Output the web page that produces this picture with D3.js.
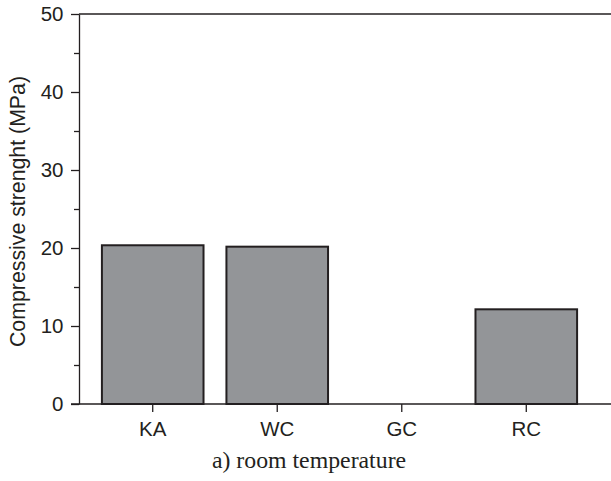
<!DOCTYPE html>
<html>
<head>
<meta charset="utf-8">
<script src="https://cdn.jsdelivr.net/npm/d3@7"></script>
<style>
  body { margin: 0; background: #fff; }
  svg { display: block; }
</style>
</head>
<body>
<svg id="chart" width="611" height="481"></svg>
<script>
const categories = ["KA", "WC", "GC", "RC"];
const values = [20.35, 20.17, null, 12.14];
const yMajorTicks = [0, 10, 20, 30, 40, 50];
const yMinorTicks = [5, 15, 25, 35, 45];
const yLabel = "Compressive strenght (MPa)";
const caption = "a) room temperature";

(function () {
const svg = d3.select("#chart");
const mLeft = 79, mRight = 600, mTop = 14, mBottom = 404, lineEnd = 611;
const axisColor = "#231f20";
const sans = "Liberation Sans, Arial, sans-serif";

const x = d3.scaleBand().domain(categories).range([mLeft, mRight]).paddingInner(0.184).paddingOuter(0.184);
const y = d3.scaleLinear().domain([0, 50]).range([mBottom, mTop]);

// bars
svg.append("g").selectAll("rect")
  .data(categories.map((c, i) => ({c, v: values[i]})).filter(d => d.v != null))
  .join("rect")
  .attr("x", d => x(d.c))
  .attr("width", x.bandwidth())
  .attr("y", d => y(d.v))
  .attr("height", d => y(0) - y(d.v))
  .attr("fill", "#939598")
  .attr("stroke", axisColor)
  .attr("stroke-width", 2);

// top line
svg.append("line").attr("x1", mLeft).attr("x2", lineEnd).attr("y1", mTop).attr("y2", mTop)
  .attr("stroke", axisColor).attr("stroke-width", 1.3);

// y axis
const yAxis = d3.axisLeft(y).tickValues(yMajorTicks).tickSize(8).tickPadding(7.5).tickSizeOuter(0);
const gy = svg.append("g").attr("transform", `translate(${mLeft},0)`).call(yAxis);
gy.select(".domain").attr("stroke", axisColor).attr("stroke-width", 1.3);
gy.selectAll(".tick line").attr("stroke", axisColor).attr("stroke-width", 1.3);
gy.selectAll(".tick text").attr("font-family", sans).attr("font-size", 20.5).attr("fill", "#231f20");

const yMinor = d3.axisLeft(y).tickValues(yMinorTicks).tickSize(5).tickFormat("").tickSizeOuter(0);
const gym = svg.append("g").attr("transform", `translate(${mLeft},0)`).call(yMinor);
gym.select(".domain").remove();
gym.selectAll(".tick line").attr("stroke", axisColor).attr("stroke-width", 1.3);

// x axis
const xAxis = d3.axisBottom(x).tickSize(8).tickPadding(9).tickSizeOuter(0);
const gx = svg.append("g").attr("transform", `translate(0,${mBottom})`).call(xAxis);
gx.select(".domain").remove();
gx.append("line").attr("x1", mLeft - 8).attr("x2", lineEnd).attr("y1", 0).attr("y2", 0)
  .attr("stroke", axisColor).attr("stroke-width", 1.3);
gx.selectAll(".tick line").attr("stroke", axisColor).attr("stroke-width", 1.3);
gx.selectAll(".tick text").attr("font-family", sans).attr("font-size", 20.5).attr("fill", "#231f20");

// y label
svg.append("text")
  .attr("transform", `translate(25,211.5) rotate(-90)`)
  .attr("text-anchor", "middle")
  .attr("font-family", sans)
  .attr("font-size", 21.3)
  .attr("fill", "#231f20")
  .text(yLabel);

// caption
svg.append("text")
  .attr("x", 309)
  .attr("y", 468)
  .attr("text-anchor", "middle")
  .attr("font-family", "Liberation Serif, Times New Roman, serif")
  .attr("font-size", 23.8)
  .attr("fill", "#231f20")
  .text(caption);
})();
</script>
</body>
</html>
